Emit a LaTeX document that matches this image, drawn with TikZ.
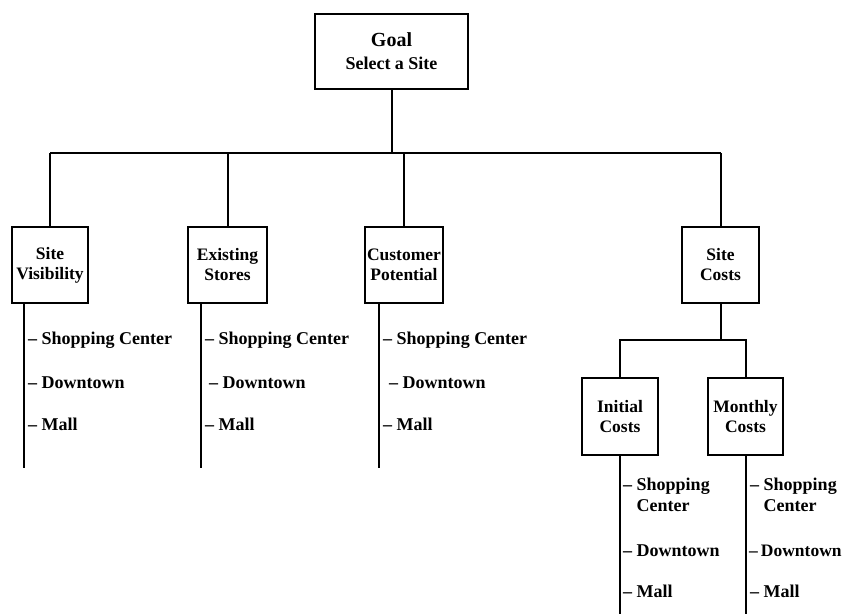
\documentclass[tikz,border=0pt]{standalone}
\usepackage{fontspec}
\setmainfont{Liberation Serif}
\begin{document}
\begin{tikzpicture}[x=1pt,y=-1pt,
  box/.style={draw,line width=2pt,inner sep=0pt,align=center,
    font=\bfseries\fontsize{17.5}{20}\selectfont},
  item/.style={anchor=west,inner sep=0pt,align=left,
    font=\bfseries\fontsize{18}{21}\selectfont},
  ln/.style={line width=2pt}]
\useasboundingbox (0,0) rectangle (845,614);
% boxes
\node[box,minimum width=153pt,minimum height=75pt,font=\bfseries\fontsize{18}{23}\selectfont] (goal) at (391.5,51.5) {{\fontsize{20}{23}\selectfont Goal}\\Select a Site};
\node[box,minimum width=76pt,minimum height=76pt] (sv) at (50,265) {Site\\Visibility};
\node[box,minimum width=79pt,minimum height=76pt] (es) at (227.5,265) {Existing\\Stores};
\node[box,minimum width=78pt,minimum height=76pt] (cp) at (404,265) {Customer\\Potential};
\node[box,minimum width=77pt,minimum height=76pt] (sc) at (720.5,265) {Site\\Costs};
\node[box,minimum width=76pt,minimum height=77pt] (ic) at (620,416.5) {Initial\\Costs};
\node[box,minimum width=75pt,minimum height=77pt] (mc) at (745.5,416.5) {Monthly\\Costs};
% main bar
\coordinate (bar) at (391.5,153);
\coordinate (barL) at (50,153);
\coordinate (barR) at (720.5,153);
\draw[ln] (goal.south) -- (bar);
\draw[ln] (barL) -- (barR);
\draw[ln] (sv.north) -- (barL);
\draw[ln] (es.north) -- (es.north |- bar);
\draw[ln] (cp.north) -- (cp.north |- bar);
\draw[ln] (sc.north) -- (barR);
% cost bar
\coordinate (cbar) at (720.5,340);
\draw[ln] (sc.south) -- (cbar);
\draw[ln] (ic.north) -- (ic.north |- cbar) -- (mc.north |- cbar) -- (mc.north);
% list lines
\coordinate (svend) at (24,468);
\coordinate (esend) at (201,468);
\coordinate (cpend) at (379,468);
\coordinate (icend) at (620,614);
\coordinate (mcend) at (746,614);
\draw[ln] (sv.south -| svend) -- (svend);
\draw[ln] (es.south -| esend) -- (esend);
\draw[ln] (cp.south -| cpend) -- (cpend);
\draw[ln] (ic.south -| icend) -- (icend);
\draw[ln] (mc.south -| mcend) -- (mcend);
% items
\node[item] (sv1) at (28,340) {-- Shopping Center};
\node[item] (sv2) at (28,383) {-- Downtown};
\node[item] (sv3) at (28,424) {-- Mall};
\node[item] (es1) at (205,340) {-- Shopping Center};
\node[item] (es2) at (209,383) {-- Downtown};
\node[item] (es3) at (205,424) {-- Mall};
\node[item] (cp1) at (383,340) {-- Shopping Center};
\node[item] (cp2) at (389,383) {-- Downtown};
\node[item] (cp3) at (383,424) {-- Mall};
\node[item,anchor=north west] (ic1) at (623,478) {-- Shopping\\\phantom{-- }Center};
\node[item] (ic2) at (623,551) {-- Downtown};
\node[item] (ic3) at (623,591) {-- Mall};
\node[item,anchor=north west] (mc1) at (750,478) {-- Shopping\\\phantom{-- }Center};
\node[item,font=\bfseries\fontsize{17.5}{20}\selectfont] (mc2) at (749,551) {--\hspace{3pt}Downtown};
\node[item] (mc3) at (750,591) {-- Mall};
\end{tikzpicture}
\end{document}
